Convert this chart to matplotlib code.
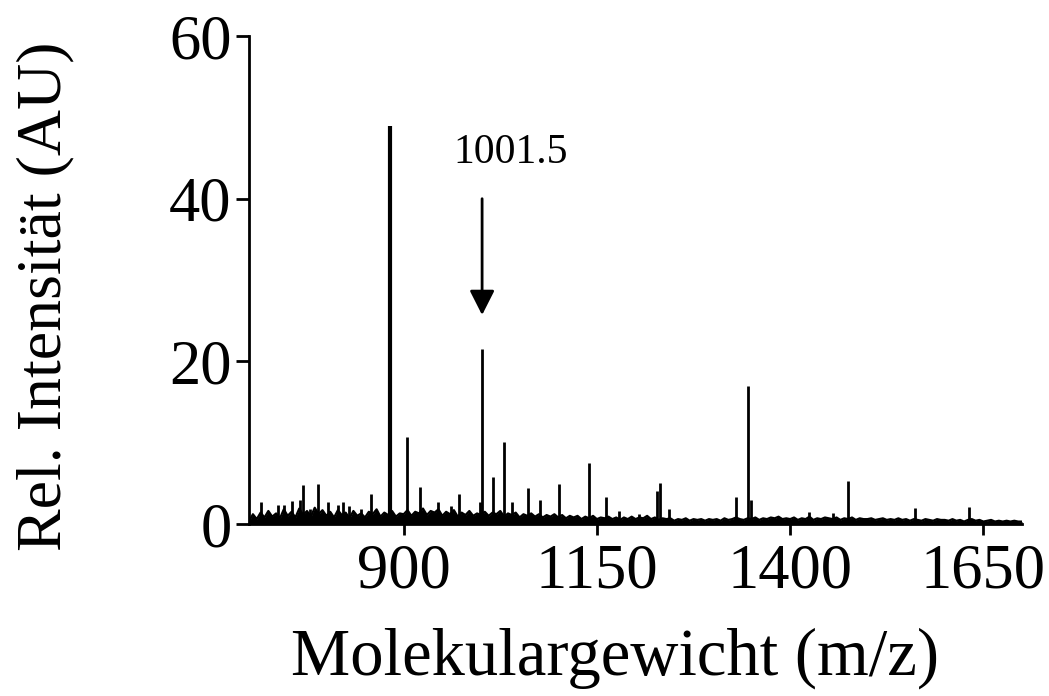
import numpy as np
import matplotlib
matplotlib.use("Agg")
import matplotlib.pyplot as plt

plt.rcParams['font.family'] = ['Liberation Serif', 'DejaVu Serif']

# noise level of the spectrum, read every 5 m/z from 700 to 1700
noise_start = 700
noise_step = 5
noise = [
    0.3, 1.2, 0.6, 1.4, 0.8, 1.6, 0.9, 1.3, 0.7, 1.8, 1.0, 1.5, 0.8, 1.9, 1.1, 1.6, 0.9, 2.0, 1.2, 1.7,
    1.0, 1.5, 0.8, 1.7, 1.1, 1.4, 0.7, 1.6, 1.0, 1.3, 0.8, 1.5, 1.2, 1.8, 0.9, 1.4, 1.1, 1.6, 0.9, 1.3,
    1.2, 1.7, 1.0, 1.5, 1.3, 1.9, 1.1, 1.6, 1.4, 1.8, 1.0, 1.5, 1.2, 1.7, 0.9, 1.4, 1.1, 1.6, 1.0, 1.3,
    1.1, 1.5, 1.0, 1.4, 1.2, 1.6, 0.9, 1.3, 1.1, 1.4, 0.8, 1.2, 1.0, 1.3, 0.9, 1.2, 0.8, 1.1, 0.9, 1.2,
    0.8, 1.1, 0.7, 1.0, 0.8, 1.0, 0.6, 0.9, 0.7, 1.0, 0.6, 0.8, 0.7, 0.9, 0.6, 0.8, 0.5, 0.8, 0.6, 0.9,
    0.6, 0.8, 0.7, 1.0, 0.6, 0.8, 0.5, 0.7, 0.6, 0.7, 0.4, 0.6, 0.5, 0.7, 0.4, 0.6, 0.5, 0.6, 0.4, 0.6,
    0.5, 0.6, 0.4, 0.7, 0.5, 0.6, 0.8, 0.6, 0.5, 0.7, 0.6, 0.8, 0.5, 0.7, 0.6, 0.8, 0.7, 0.9, 0.6, 0.7,
    0.6, 0.8, 0.5, 0.7, 0.6, 0.9, 0.5, 0.7, 0.6, 0.8, 0.7, 0.6, 0.8, 0.5, 0.7, 0.6, 0.8, 0.5, 0.7, 0.6,
    0.6, 0.7, 0.5, 0.6, 0.7, 0.5, 0.6, 0.5, 0.7, 0.5, 0.6, 0.4, 0.6, 0.5, 0.4, 0.6, 0.5, 0.4, 0.6, 0.5,
    0.5, 0.4, 0.6, 0.4, 0.5, 0.3, 0.5, 0.6, 0.4, 0.5, 0.3, 0.4, 0.5, 0.3, 0.4, 0.3, 0.4, 0.3, 0.4, 0.3,
    0.3,
]

# peaks (m/z, rel. intensity)
peak_mz = [716, 737, 745, 756, 766, 770, 779, 789, 802, 815, 821, 829, 845, 858,
           882, 905, 921, 945, 961, 972, 999, 1002, 1015, 1030, 1040, 1061, 1077,
           1101, 1140, 1162, 1179, 1205, 1228, 1232, 1243, 1330, 1345, 1349,
           1425, 1456, 1475, 1561, 1632]
peak_int = [2.7, 2.3, 2.3, 2.8, 2.9, 4.8, 1.9, 4.9, 2.7, 2.3, 2.7, 2.2, 1.8, 3.7,
            49.0, 10.7, 4.5, 2.7, 2.2, 3.7, 2.7, 21.5, 5.8, 10.1, 2.7, 4.4, 3.0,
            4.9, 7.5, 3.3, 1.6, 1.2, 4.0, 5.0, 1.8, 3.3, 17.0, 3.0,
            1.5, 1.4, 5.3, 2.0, 2.1]

marked_mz = 1001.5
marked_label = "1001.5"

xticks = [900, 1150, 1400, 1650]
yticks = [0, 20, 40, 60]

noise_mz = noise_start + noise_step * np.arange(len(noise))

fig = plt.figure(figsize=(10.49, 6.96), dpi=100)
ax = fig.add_axes([0.2374, 0.2471, 0.7369, 0.7011])

ax.fill_between(noise_mz, 0, noise, color='black', lw=0)
ax.plot(noise_mz, noise, color='black', lw=1.6)
ax.vlines(peak_mz, 0, peak_int, color='black', lw=2.0)
# the base peak is drawn a bit heavier
ax.vlines(peak_mz[14], 0, peak_int[14], color='black', lw=3.0)

# arrow + label for the marked peak
ax.annotate('', xy=(marked_mz, 25.7), xytext=(marked_mz, 40),
            arrowprops=dict(arrowstyle='-|>,head_length=0.75,head_width=0.38',
                            mutation_scale=20, lw=2, color='black',
                            shrinkA=0, shrinkB=0))
ax.text(1038.6, 44.4, marked_label, ha='center', va='baseline', fontsize=30)

ax.set_xlim(700, 1700)
ax.set_ylim(0, 60)
ax.set_xticks(xticks)
ax.set_yticks(yticks)
ax.tick_params(axis='both', labelsize=45, width=2, direction='out')
ax.tick_params(axis='y', length=9.5, pad=3)
ax.tick_params(axis='x', length=8, pad=6)
ax.spines['top'].set_visible(False)
ax.spines['right'].set_visible(False)
ax.spines['left'].set_linewidth(2)
ax.spines['bottom'].set_linewidth(2)

fig.text(615 / 1049, 1 - 675 / 696, "Molekulargewicht (m/z)", ha='center',
         va='baseline', fontsize=48)
fig.text(45 / 1049, 1 - 296 / 696, "Rel. Intensität (AU)", ha='center',
         va='center', rotation=90, fontsize=46)

fig.savefig("out.png", dpi=100)
